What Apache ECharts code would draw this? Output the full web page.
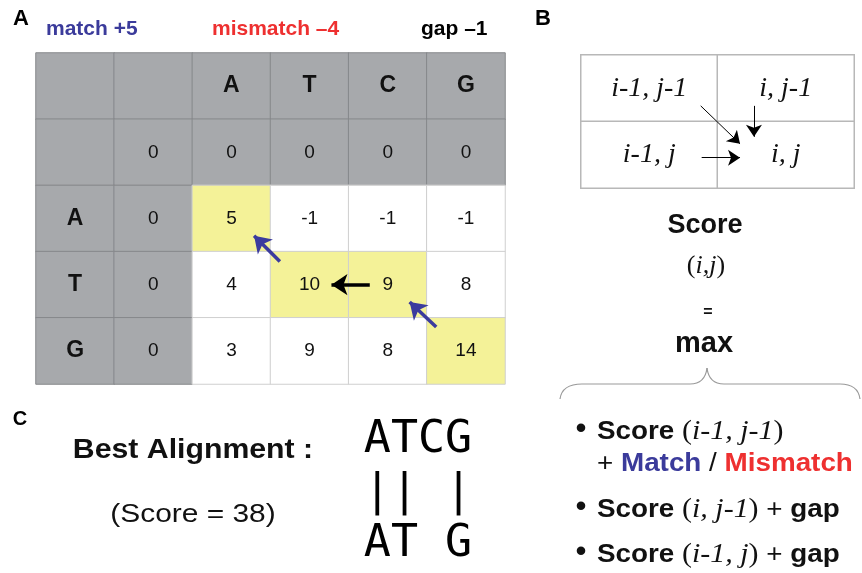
<!DOCTYPE html>
<html>
<head>
<meta charset="utf-8">
<script src="https://cdn.jsdelivr.net/npm/echarts@6/dist/echarts.min.js"></script>
<style>html,body{margin:0;padding:0;background:#fff}#chart{width:862px;height:573px}</style>
</head>
<body>
<div id="chart"></div>
<script>
// sequences and local alignment score matrix
var seqTop = ['A', 'T', 'C', 'G'];
var seqLeft = ['A', 'T', 'G'];
var scoreRows = [
    [0, 0, 0, 0, 0],
    [0, 5, -1, -1, -1],
    [0, 4, 10, 9, 8],
    [0, 3, 9, 8, 14]
];
// traceback cells [row, col] of scoreRows
var pathCells = [[1, 1], [2, 2], [2, 3], [3, 4]];
// traceback arrows, in table cell units [x0, y0, x1, y1]
var blueArrows = [[3.12, 3.15, 2.79, 2.76], [5.12, 4.14, 4.78, 3.76]];
var blackArrows = [[4.27, 3.5, 3.78, 3.5]];

// panel B: neighbour cells and arrows (cell units)
var neighbourLabels = [['i-1, j-1', 'i, j-1'], ['i-1, j', 'i, j']];
var neighbourArrows = [[0.877, 0.765, 1.165, 1.335], [1.267, 0.765, 1.267, 1.23], [0.884, 1.544, 1.165, 1.544]];

// panel C
var alignTop = 'ATCG';
var alignMid = '|| |';
var alignBottom = 'AT G';
var bestScore = 38;

var SANS = 'Liberation Sans';
var SERIF = 'Liberation Serif';
var MONO = 'DejaVu Sans Mono';

var tableData = [];
for (var r = 0; r < 5; r++) {
    for (var c = 0; c < 6; c++) {
        var text, bold = false;
        if (r === 0) { text = c >= 2 ? seqTop[c - 2] : ''; bold = true; }
        else if (c === 0) { text = r >= 2 ? seqLeft[r - 2] : ''; bold = true; }
        else text = String(scoreRows[r - 1][c - 1]);
        var head = r <= 1 || c <= 1;
        var onPath = pathCells.some(function (p) { return p[0] === r - 1 && p[1] === c - 1; });
        tableData.push({
            name: text,
            value: [c, r, 0],
            itemStyle: {
                color: head ? '#a7a9ac' : (onPath ? '#f4f298' : '#ffffff'),
                borderColor: head ? '#86888b' : '#cfcfcf',
                borderWidth: 1
            },
            label: bold ? {fontSize: 23, fontWeight: 'bold'} : {fontSize: 19}
        });
    }
}

var neighbourData = [];
neighbourLabels.forEach(function (row, ri) {
    row.forEach(function (t, ci) {
        neighbourData.push({name: t, value: [ci, ri, 0]});
    });
});

function toLines(arr) {
    return arr.map(function (a) { return {coords: [[a[0], a[1]], [a[2], a[3]]]}; });
}

// curly brace under "max"
var braceStyle = {stroke: '#9a9a9a', lineWidth: 1.2, fill: null};
var brace = [
    {type: 'bezierCurve', shape: {x1: 560, y1: 399, cpx1: 562, cpy1: 384, x2: 582, y2: 384}, style: braceStyle},
    {type: 'line', shape: {x1: 582, y1: 384, x2: 690, y2: 384}, style: braceStyle},
    {type: 'bezierCurve', shape: {x1: 690, y1: 384, cpx1: 705, cpy1: 384, x2: 707, y2: 368}, style: braceStyle},
    {type: 'bezierCurve', shape: {x1: 707, y1: 368, cpx1: 709, cpy1: 384, x2: 724, y2: 384}, style: braceStyle},
    {type: 'line', shape: {x1: 724, y1: 384, x2: 840, y2: 384}, style: braceStyle},
    {type: 'bezierCurve', shape: {x1: 840, y1: 384, cpx1: 858, cpy1: 384, x2: 860, y2: 399}, style: braceStyle}
];

var richBase = {
    b: {fontFamily: SANS, fontWeight: 'bold', fontSize: 26, fill: '#111'},
    n: {fontFamily: SANS, fontSize: 26, fill: '#111'},
    p: {fontFamily: SERIF, fontSize: 28, fill: '#111'},
    i: {fontFamily: SERIF, fontStyle: 'italic', fontSize: 28, fill: '#111'},
    m: {fontFamily: SANS, fontWeight: 'bold', fontSize: 26, fill: '#3b3b9b'},
    x: {fontFamily: SANS, fontWeight: 'bold', fontSize: 26, fill: '#ee3030'}
};
var richHead = {
    p: {fontFamily: SERIF, fontSize: 26, fill: '#111'},
    i: {fontFamily: SERIF, fontStyle: 'italic', fontSize: 26, fill: '#111'}
};

function bullet(y) {
    return {type: 'text', x: 581, y: y, style: {text: '\u2022', font: 'bold 30px ' + SANS, fill: '#111', align: 'center', verticalAlign: 'middle'}};
}
function formula(y, s) {
    return {type: 'text', x: 597, y: y, scaleX: 1.07, style: {text: s, verticalAlign: 'middle', rich: richBase}};
}

var myChart = echarts.init(document.getElementById('chart'));
var option = {
    animation: false,
    backgroundColor: '#fff',
    grid: [
        {left: 36, top: 53, width: 469, height: 331},
        {left: 36, top: 53, width: 469, height: 331},
        {left: 581, top: 55, width: 273, height: 133},
        {left: 581, top: 55, width: 273, height: 133}
    ],
    xAxis: [
        {type: 'category', gridIndex: 0, data: [0, 1, 2, 3, 4, 5], show: false},
        {type: 'value', gridIndex: 1, min: 0, max: 6, show: false},
        {type: 'category', gridIndex: 2, data: [0, 1], show: false},
        {type: 'value', gridIndex: 3, min: 0, max: 2, show: false}
    ],
    yAxis: [
        {type: 'category', gridIndex: 0, data: [0, 1, 2, 3, 4], inverse: true, show: false},
        {type: 'value', gridIndex: 1, min: 0, max: 5, inverse: true, show: false},
        {type: 'category', gridIndex: 2, data: [0, 1], inverse: true, show: false},
        {type: 'value', gridIndex: 3, min: 0, max: 2, inverse: true, show: false}
    ],
    series: [
        {
            type: 'heatmap', xAxisIndex: 0, yAxisIndex: 0,
            data: tableData,
            label: {show: true, color: '#111', fontFamily: SANS, formatter: function (p) { return p.name; }},
            emphasis: {disabled: true}
        },
        {
            type: 'lines', coordinateSystem: 'cartesian2d', xAxisIndex: 1, yAxisIndex: 1,
            symbol: ['none', 'arrow'], symbolSize: 16,
            lineStyle: {color: '#3b3b9e', width: 3.5, opacity: 1},
            data: toLines(blueArrows)
        },
        {
            type: 'lines', coordinateSystem: 'cartesian2d', xAxisIndex: 1, yAxisIndex: 1,
            symbol: ['none', 'arrow'], symbolSize: 16,
            lineStyle: {color: '#000', width: 3.5, opacity: 1},
            data: toLines(blackArrows)
        },
        {
            type: 'heatmap', xAxisIndex: 2, yAxisIndex: 2,
            data: neighbourData,
            itemStyle: {color: '#fff', borderColor: '#b8b8b8', borderWidth: 1.5},
            label: {show: true, color: '#111', fontFamily: SERIF, fontStyle: 'italic', fontSize: 28,
                formatter: function (p) { return p.name; }},
            emphasis: {disabled: true}
        },
        {
            type: 'lines', coordinateSystem: 'cartesian2d', xAxisIndex: 3, yAxisIndex: 3,
            symbol: ['none', 'arrow'], symbolSize: 12,
            lineStyle: {color: '#000', width: 1, opacity: 1},
            data: toLines(neighbourArrows)
        }
    ],
    graphic: [
        {type: 'text', x: 21, y: 19, style: {text: 'A', font: 'bold 22px ' + SANS, fill: '#000', align: 'center', verticalAlign: 'middle'}},
        {type: 'text', x: 543, y: 19, style: {text: 'B', font: 'bold 22px ' + SANS, fill: '#000', align: 'center', verticalAlign: 'middle'}},
        {type: 'text', x: 20, y: 419, style: {text: 'C', font: 'bold 20px ' + SANS, fill: '#000', align: 'center', verticalAlign: 'middle'}},
        {type: 'text', x: 46, y: 29, style: {text: 'match +5', font: 'bold 21px ' + SANS, fill: '#3b3b9b', verticalAlign: 'middle'}},
        {type: 'text', x: 212, y: 29, style: {text: 'mismatch \u20134', font: 'bold 21px ' + SANS, fill: '#ee3030', verticalAlign: 'middle'}},
        {type: 'text', x: 421, y: 29, style: {text: 'gap \u20131', font: 'bold 21px ' + SANS, fill: '#000', verticalAlign: 'middle'}},

        {type: 'text', x: 705, y: 226, style: {text: 'Score', font: 'bold 27px ' + SANS, fill: '#111', align: 'center', verticalAlign: 'middle'}},
        {type: 'text', x: 706, y: 266, style: {text: '{p|(}{i|i,j}{p|)}', align: 'center', verticalAlign: 'middle', rich: richHead}},
        {type: 'text', x: 708, y: 313, style: {text: '=', font: 'bold 16px ' + SANS, fill: '#111', align: 'center', verticalAlign: 'middle'}},
        {type: 'text', x: 704, y: 344, style: {text: 'max', font: 'bold 29px ' + SANS, fill: '#111', align: 'center', verticalAlign: 'middle'}}
    ].concat(brace).concat([
        bullet(430), bullet(508), bullet(553),
        formula(432, '{b|Score }{p|(}{i|i-1, j-1}{p|)}'),
        formula(464, '{n|+ }{m|Match}{n| / }{x|Mismatch}'),
        formula(510, '{b|Score }{p|(}{i|i, j-1}{p|)}{n| + }{b|gap}'),
        formula(555, '{b|Score }{p|(}{i|i-1, j}{p|)}{n| + }{b|gap}'),

        {type: 'text', x: 193, y: 451, scaleX: 1.12, style: {text: 'Best Alignment :', font: 'bold 27px ' + SANS, fill: '#111', align: 'center', verticalAlign: 'middle'}},
        {type: 'text', x: 193, y: 515, scaleX: 1.15, style: {text: '(Score = ' + bestScore + ')', font: '26px ' + SANS, fill: '#111', align: 'center', verticalAlign: 'middle'}},
        {type: 'text', x: 418, y: 440, style: {text: alignTop, font: '45px ' + MONO, fill: '#000', align: 'center', verticalAlign: 'middle'}},
        {type: 'text', x: 418, y: 493, style: {text: alignMid, font: '45px ' + MONO, fill: '#000', align: 'center', verticalAlign: 'middle'}},
        {type: 'text', x: 418, y: 544, style: {text: alignBottom, font: '45px ' + MONO, fill: '#000', align: 'center', verticalAlign: 'middle'}}
    ])
};
myChart.setOption(option);
</script>
</body>
</html>
